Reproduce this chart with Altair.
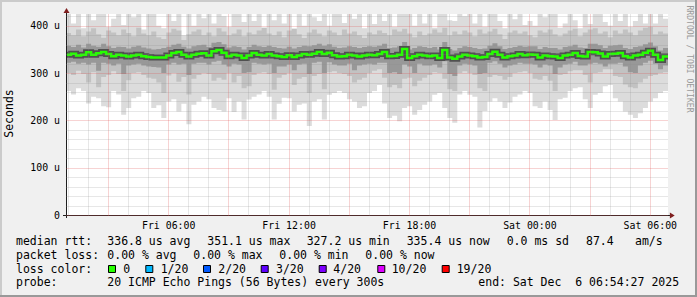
import altair as alt
import pandas as pd

MONO = "DejaVu Sans Mono"

# time axis: hours since Fri 00:00 (Fri 00:54:27 .. Sat 06:54:27), 15 min steps
START_H = 0.9075
END_H = 30.9075
STEP_H = 0.25

# median rtt (microseconds) per step
median = [
    339, 341, 337.5, 339, 344, 339, 342, 344.5, 340.5, 335.5,
    339, 337, 335, 337, 339, 335.5, 334, 333, 333, 333,
    337, 342.5, 344.5, 339, 335, 339, 341, 342, 337, 346,
    349, 343, 335.5, 339, 337.5, 332, 337, 342.5, 339, 337,
    340.5, 337.5, 335.5, 334, 338, 334, 337.5, 340.5, 339, 341,
    344.5, 340.5, 343, 338, 335, 335.5, 339, 337, 335, 337.5,
    339, 338, 340.5, 344.5, 335.5, 336, 339, 351, 332, 335.5,
    339, 337, 335.5, 337.5, 332, 349, 333, 330.5, 335, 339,
    337.5, 335.5, 333, 334, 340.5, 345, 339, 333, 335.5, 337.5,
    340.5, 338, 339.5, 339, 333, 337, 335.5, 335, 332, 337.5,
    339, 342.5, 336, 335, 344.5, 344, 341.5, 335, 340.5, 341,
    342.5, 335.5, 333, 337, 339, 343, 347.5, 339, 328, 335.4,
]

# outer smoke band (lightest)
smoke_lo1 = [
    262, 255, 268, 262, 236, 250, 247, 230, 228, 262,
    255, 212, 226, 247, 250, 262, 258, 226, 232, 205,
    240, 245, 219, 235, 192, 233, 240, 250, 245, 226,
    222, 219, 247, 218, 240, 202, 244, 250, 255, 262,
    250, 202, 235, 248, 247, 219, 233, 236, 188, 240,
    245, 202, 254, 258, 262, 258, 245, 240, 226, 230,
    258, 262, 275, 236, 205, 210, 198, 226, 230, 212,
    222, 233, 240, 254, 258, 226, 205, 195, 255, 262,
    254, 250, 185, 220, 240, 247, 240, 226, 238, 250,
    255, 262, 258, 230, 226, 240, 222, 201, 245, 248,
    262, 268, 270, 245, 226, 254, 258, 272, 275, 247,
    240, 219, 212, 205, 215, 226, 240, 247, 258, 262,
]
smoke_hi1 = [
    430, 405, 430, 395, 430, 412, 425, 430, 398, 415,
    430, 402, 430, 418, 430, 392, 430, 430, 400, 395,
    430, 410, 425, 380, 430, 400, 430, 416, 425, 405,
    430, 420, 398, 430, 425, 408, 430, 410, 430, 396,
    430, 412, 425, 405, 430, 394, 430, 400, 430, 418,
    410, 430, 400, 430, 425, 406, 430, 415, 430, 395,
    430, 404, 425, 410, 430, 398, 430, 430, 425, 400,
    430, 405, 430, 396, 425, 430, 412, 410, 430, 420,
    430, 405, 430, 398, 430, 425, 410, 395, 430, 414,
    430, 402, 410, 400, 430, 418, 425, 430, 396, 405,
    430, 412, 395, 430, 404, 425, 430, 408, 400, 430,
    410, 430, 398, 410, 430, 405, 425, 405, 430, 415,
]
# middle smoke band
smoke_lo2 = [
    300, 296, 305, 298, 280, 302, 270, 292, 296, 304,
    298, 262, 285, 300, 302, 296, 290, 288, 280, 258,
    295, 300, 282, 292, 255, 288, 296, 300, 298, 284,
    290, 286, 300, 280, 294, 268, 272, 296, 300, 302,
    298, 265, 290, 296, 300, 275, 288, 292, 258, 294,
    298, 266, 302, 304, 300, 298, 294, 280, 286, 290,
    300, 305, 308, 290, 270, 275, 268, 288, 290, 272,
    284, 290, 296, 302, 300, 288, 266, 262, 300, 304,
    300, 296, 268, 262, 292, 296, 294, 286, 292, 300,
    302, 304, 300, 288, 286, 294, 284, 262, 296, 298,
    304, 306, 306, 296, 280, 300, 302, 308, 308, 294,
    292, 276, 270, 268, 280, 288, 294, 296, 300, 302,
]
smoke_hi2 = [
    385, 380, 392, 378, 388, 395, 382, 375, 390, 386,
    380, 392, 385, 378, 396, 384, 380, 388, 376, 372,
    386, 394, 390, 370, 382, 388, 392, 380, 386, 378,
    395, 388, 380, 384, 392, 378, 386, 382, 390, 396,
    384, 380, 388, 376, 390, 394, 382, 374, 386, 392,
    384, 378, 390, 386, 380, 392, 384, 388, 380, 374,
    386, 382, 390, 385, 380, 392, 388, 394, 384, 376,
    388, 380, 384, 392, 386, 396, 380, 388, 382, 390,
    386, 378, 392, 384, 388, 394, 382, 372, 386, 390,
    384, 388, 380, 376, 390, 386, 392, 382, 378, 384,
    390, 394, 378, 386, 392, 395, 384, 388, 376, 390,
    384, 392, 386, 380, 390, 396, 398, 382, 388, 384,
]
# inner smoke band
smoke_lo3 = [
    322, 324, 320, 322, 318, 322, 305, 322, 320, 316,
    320, 298, 316, 318, 320, 316, 314, 313, 312, 300,
    318, 322, 318, 320, 296, 320, 322, 322, 318, 324,
    326, 318, 314, 320, 318, 300, 302, 322, 320, 318,
    320, 300, 314, 314, 318, 306, 318, 320, 298, 322,
    324, 300, 323, 318, 316, 316, 320, 306, 316, 318,
    320, 318, 322, 322, 300, 302, 298, 318, 314, 300,
    320, 316, 316, 318, 312, 325, 298, 294, 316, 320,
    318, 316, 298, 300, 322, 325, 320, 312, 316, 318,
    322, 320, 320, 318, 312, 318, 316, 298, 312, 318,
    320, 324, 316, 316, 320, 322, 320, 314, 320, 320,
    322, 314, 302, 300, 316, 322, 326, 320, 308, 316,
]
smoke_hi3 = [
    358, 355, 360, 354, 362, 358, 356, 362, 357, 353,
    356, 355, 352, 356, 358, 354, 352, 350, 351, 353,
    356, 360, 362, 356, 352, 357, 359, 360, 355, 364,
    366, 361, 354, 357, 355, 350, 355, 360, 357, 355,
    358, 355, 353, 352, 356, 352, 355, 358, 357, 359,
    362, 358, 361, 356, 353, 354, 357, 355, 353, 355,
    357, 356, 358, 362, 353, 354, 357, 366, 350, 353,
    357, 355, 353, 355, 350, 366, 351, 348, 353, 357,
    355, 353, 351, 352, 358, 363, 357, 351, 353, 355,
    358, 356, 357, 357, 351, 355, 353, 353, 350, 355,
    357, 360, 354, 353, 362, 362, 359, 353, 358, 359,
    360, 353, 351, 355, 357, 361, 365, 357, 348, 353,
]

x_hours = list(range(1, 31))
y_grid = list(range(0, 421, 20))

legend_rows = [
    [("median rtt:", 16), ("336.8 us avg", 107.3), ("351.1 us max", 207.3),
     ("327.2 us min", 306.7), ("335.4 us now", 406.7), ("0.0 ms sd", 506.7),
     ("87.4", 586), ("am/s", 635)],
    [("packet loss:", 16), ("0.00 % avg", 107.3), ("0.00 % max", 193.3),
     ("0.00 % min", 279.3), ("0.00 % now", 365.3)],
    [("loss color:", 16)],
    [("probe:", 16), ("20 ICMP Echo Pings (56 Bytes) every 300s", 107.3),
     ("end: Sat Dec\u00a0 6 06:54:27 2025", 478.3)],
]
loss_labels = ["0", "1/20", "2/20", "3/20", "4/20", "10/20", "19/20"]
loss_colors = ["#26ff00", "#00b8ff", "#0059ff", "#5e00ff", "#7e00ff", "#dd00ff", "#ff0000"]
loss_box_x = [112, 149.3, 207, 264.7, 322.7, 381.3, 445.7]
loss_text_x = [123.3, 160.7, 218.3, 276, 333.3, 391.7, 456.7]
row_base = [245, 258.8, 272.6, 286.4]

# ---------------------------------------------------------------
PL, PT, W, H = 66, 14, 602, 201

def ext(a):
    return list(a) + [a[-1]]

n = len(median)
df = pd.DataFrame({
    "t": [START_H + STEP_H * i for i in range(n)] + [END_H],
    "med": ext(median),
    "lo1": ext(smoke_lo1), "hi1": ext(smoke_hi1),
    "lo2": ext(smoke_lo2), "hi2": ext(smoke_hi2),
    "lo3": ext(smoke_lo3), "hi3": ext(smoke_hi3),
})

MINOR = "rgba(140,140,140,0.42)"
MAJOR = "rgba(224,80,80,0.5)"

xscale = alt.Scale(domain=[START_H, END_H], nice=False, zero=False)
yscale = alt.Scale(domain=[0, 425], nice=False, zero=True)

xaxis = alt.Axis(
    values=x_hours, grid=True, ticks=False, domain=False, title=None, zindex=1,
    gridColor={"condition": {"test": "datum.value % 3 === 0", "value": MAJOR}, "value": MINOR},
    gridDash=[1, 1], gridWidth=1,
    labelExpr="datum.value % 6 === 0 ? ((datum.value < 24 ? 'Fri ' : 'Sat ') + (datum.value % 24 < 10 ? '0' : '') + (datum.value % 24) + ':00') : ''",
    labelFont=MONO, labelFontSize=9.9, labelColor="black", labelPadding=5,
    labelFlush=False, labelOverlap=False,
)
yaxis = alt.Axis(
    values=y_grid, grid=True, ticks=False, domain=False, title=None, zindex=1,
    gridColor={"condition": {"test": "datum.value % 100 === 0", "value": MAJOR}, "value": MINOR},
    gridDash=[1, 1], gridWidth=1,
    labelExpr="datum.value === 0 ? '0\u00a0\u00a0' : (datum.value % 100 === 0 ? datum.value + ' u' : '')",
    labelFont=MONO, labelFontSize=9.9, labelColor="black", labelPadding=6.5,
    labelOverlap=False,
)

base = alt.Chart(df)
X = alt.X("t:Q", scale=xscale, axis=xaxis)

def band(lo, hi, color):
    return base.mark_area(interpolate="step-after", color=color, clip=True).encode(
        x=X, y=alt.Y(f"{lo}:Q", scale=yscale, axis=yaxis), y2=f"{hi}:Q")

layers = [
    band("lo1", "hi1", "#dcdcdc"),
    band("lo2", "hi2", "#c2c2c2"),
    band("lo3", "hi3", "#989898"),
    base.mark_line(interpolate="step-after", color="#505050", strokeWidth=6, clip=True).encode(
        x=X, y=alt.Y("med:Q", scale=yscale, axis=yaxis)),
    base.mark_line(interpolate="step-after", color="#26ff00", strokeWidth=2.5, clip=True).encode(
        x=X, y=alt.Y("med:Q", scale=yscale, axis=yaxis)),
]

one = alt.Data(values=[{"a": 1}])

def rect(x1, x2, y1, y2, color):
    return alt.Chart(one).mark_rect(color=color).encode(
        x=alt.value(x1 - PL), x2=alt.value(x2 - PL), y=alt.value(y1 - PT), y2=alt.value(y2 - PT))

def rule(x1, x2, y1, y2, color):
    return alt.Chart(one).mark_rule(color=color, strokeWidth=1).encode(
        x=alt.value(x1 - PL), x2=alt.value(x2 - PL), y=alt.value(y1 - PT), y2=alt.value(y2 - PT))

def txt(s, x, y, size=11.5, color="black", align="left", baseline="alphabetic", angle=0):
    return alt.Chart(one).mark_text(font=MONO, fontSize=size, color=color, align=align,
                                    baseline=baseline, angle=angle).encode(
        x=alt.value(x - PL), y=alt.value(y - PT), text=alt.value(s))

# frame borders
layers += [
    rect(0, 697, 0, 2, "#cbcbcb"),
    rect(0, 2, 0, 297, "#cbcbcb"),
    rect(695, 697, 0, 297, "#999999"),
    rect(0, 697, 295, 297, "#999999"),
]
# axis lines
layers += [
    rule(66.5, 66.5, 12, 218, "#1f1f1f"),
    rule(63, 670, 215.5, 215.5, "#1f1f1f"),
]
# arrows
layers += [
    alt.Chart(one).mark_point(shape="M-1,0.8L0,-0.8L1,0.8Z", filled=True, size=36,
                              color="#7f1f1f", opacity=1).encode(
        x=alt.value(66.5 - PL), y=alt.value(10.5 - PT)),
    alt.Chart(one).mark_point(shape="M-0.8,-1L0.8,0L-0.8,1Z", filled=True, size=36,
                              color="#7f1f1f", opacity=1).encode(
        x=alt.value(672.3 - PL), y=alt.value(215.5 - PT)),
]
# y title and watermark
layers += [
    txt("Seconds", 10, 113.5, size=11.5, align="center", baseline="middle", angle=270),
    txt("RRDTOOL / TOBI OETIKER", 688.5, 59, size=8.1, color="#9a9a9a",
        align="center", baseline="middle", angle=90),
]
# legend text
for r, items in enumerate(legend_rows):
    for s, x in items:
        layers.append(txt(s, x, row_base[r]))
for lab, col, bx, tx in zip(loss_labels, loss_colors, loss_box_x, loss_text_x):
    layers.append(
        alt.Chart(one).mark_point(shape="square", filled=True, size=49, color=col,
                                  stroke="black", strokeWidth=1, opacity=1).encode(
            x=alt.value(bx - PL), y=alt.value(269 - PT)))
    layers.append(txt(lab, tx, row_base[2]))

chart = alt.layer(*layers).properties(
    width=W, height=H,
    autosize=alt.AutoSizeParams(type="none"),
    padding={"left": PL, "top": PT, "right": 697 - PL - W, "bottom": 297 - PT - H},
    background="#f0f0f0",
).configure_view(fill="white", stroke=None)

chart.save("out.html", embed_options={"renderer": "svg", "actions": False})
